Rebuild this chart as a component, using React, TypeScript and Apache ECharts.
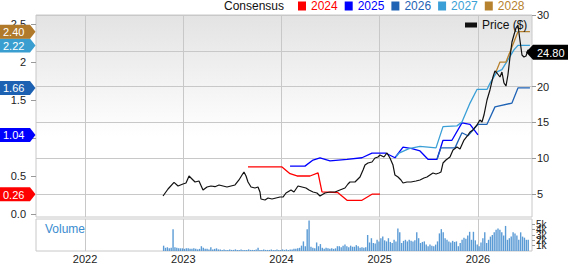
import React, { useEffect, useRef } from "react";
import * as echarts from "echarts";

const FONT = "Liberation Sans, Arial, sans-serif";

const yearTicks = [2022, 2023, 2024, 2025, 2026];
const epsTicks = [0, 0.5, 1, 1.5, 2, 2.5];
const priceTicks = [5, 10, 15, 20, 25, 30];

const seriesNames = ["2024", "2025", "2026", "2027", "2028"];
const seriesColors = ["#ff0000", "#0000ff", "#1f63b5", "#3a9fd6", "#b7822f"];
const badgeColors = ["#ff0000", "#0000ff", "#1d62b2", "#3a9fd0", "#b07a2a"];

const priceT = [
  2022.794, 2022.845, 2022.906, 2022.947, 2022.997, 2023.028, 2023.059, 2023.089, 2023.12, 2023.16,
  2023.201, 2023.242, 2023.282, 2023.323, 2023.364, 2023.405, 2023.445, 2023.486, 2023.527, 2023.567,
  2023.598, 2023.618, 2023.639, 2023.659, 2023.69, 2023.73, 2023.761, 2023.781, 2023.791, 2023.832,
  2023.863, 2023.903, 2023.944, 2023.985, 2024.015, 2024.046, 2024.097, 2024.127, 2024.168, 2024.209,
  2024.249, 2024.28, 2024.321, 2024.361, 2024.392, 2024.443, 2024.494, 2024.545, 2024.595, 2024.646,
  2024.677, 2024.697, 2024.748, 2024.799, 2024.83, 2024.85, 2024.88, 2024.921, 2024.952, 2024.982,
  2025.003, 2025.043, 2025.074, 2025.104, 2025.135, 2025.155, 2025.186, 2025.216, 2025.237, 2025.277,
  2025.318, 2025.369, 2025.41, 2025.45, 2025.481, 2025.511, 2025.542, 2025.573, 2025.603, 2025.623,
  2025.644, 2025.674, 2025.715, 2025.746, 2025.786, 2025.817, 2025.858, 2025.898, 2025.919, 2025.949,
  2025.99, 2026.02, 2026.041, 2026.061, 2026.092, 2026.122, 2026.153, 2026.173, 2026.193, 2026.224,
  2026.244, 2026.265, 2026.285, 2026.305, 2026.326, 2026.346, 2026.366, 2026.387, 2026.407, 2026.427,
  2026.448, 2026.468, 2026.489, 2026.509, 2026.529,
];
const priceV = [
  4.72, 5.7, 6.63, 6.12, 6.4, 6.54, 7.51, 7.1, 6.68, 6.82,
  5.56, 5.98, 6.12, 6.02, 6.26, 6.12, 5.98, 6.12, 6.26, 6.96,
  7.65, 8.07, 7.51, 6.68, 5.98, 5.84, 5.98, 5.28, 4.3, 4.16,
  4.44, 4.3, 4.44, 4.58, 4.58, 5.14, 5.56, 5.28, 6.12, 5.98,
  5.84, 5.56, 5.28, 5.14, 4.72, 5.14, 5.28, 5.28, 5.56, 5.84,
  6.4, 6.68, 6.68, 7.37, 8.35, 9.05, 9.33, 9.47, 10.03, 10.17,
  10.45, 10.17, 10.73, 10.03, 9.05, 7.65, 7.37, 6.96, 6.54, 6.68,
  6.68, 6.82, 6.96, 7.23, 7.37, 7.65, 7.93, 7.79, 7.93, 8.07,
  9.33, 9.75, 10.17, 11.15, 11.56, 11.28, 12.54, 13.24, 13.66, 13.94,
  14.64, 15.34, 15.06, 16.03, 18.13, 19.53, 21.34, 22.18, 21.9, 21.34,
  22.04, 20.5, 20.08, 21.62, 24.13, 26.23, 27.21, 28.18, 28.6, 26.51,
  24.41, 24.13, 24.27, 25.11, 24.8,
];

const eps2024T = [2023.659, 2024.005, 2024.087, 2024.158, 2024.29, 2024.372, 2024.412, 2024.575, 2024.667, 2024.819, 2024.921, 2025.003];
const eps2024V = [0.62, 0.62, 0.53, 0.5, 0.5, 0.54, 0.29, 0.28, 0.18, 0.18, 0.26, 0.26];

const eps2025T = [2024.087, 2024.239, 2024.321, 2024.392, 2024.494, 2024.667, 2024.819, 2024.921, 2025.064, 2025.155, 2025.237, 2025.328, 2025.41, 2025.491, 2025.583, 2025.644, 2025.735, 2025.837, 2025.919, 2026.0];
const eps2025V = [0.63, 0.63, 0.71, 0.74, 0.7, 0.72, 0.74, 0.8, 0.8, 0.74, 0.88, 0.86, 0.83, 0.72, 0.72, 0.97, 0.97, 1.2, 1.18, 1.04];

const eps2026T = [2025.583, 2025.623, 2025.766, 2025.837, 2025.898, 2026.0, 2026.092, 2026.173, 2026.346, 2026.407, 2026.529];
const eps2026V = [0.72, 0.87, 0.87, 1.07, 1.03, 1.18, 1.18, 1.41, 1.46, 1.66, 1.66];

const eps2027T = [2025.165, 2025.196, 2025.298, 2025.41, 2025.573, 2025.644, 2025.786, 2025.837, 2025.919, 2025.99, 2026.092, 2026.122, 2026.193, 2026.244, 2026.305, 2026.366, 2026.407, 2026.529];
const eps2027V = [0.75, 0.8, 0.86, 0.89, 0.87, 1.15, 1.16, 1.21, 1.46, 1.64, 1.64, 1.72, 1.87, 1.9, 2.03, 2.16, 2.22, 2.22];

const eps2028T = [2026.183, 2026.224, 2026.285, 2026.346, 2026.407, 2026.529];
const eps2028V = [1.87, 2.0, 2.0, 2.2, 2.4, 2.4];

// weekly volume (thousands), first week starting at volStart (decimal year)
const volStart = 2022.8;
const volWeeksPerYear = 52;
const volumeK = [
  1.0, 0.6, 0.7, 0.5, 0.6, 4.1, 0.7, 0.6, 0.5, 0.5,
  0.5, 0.4, 0.5, 0.5, 0.4, 0.4, 0.5, 0.4, 0.3, 0.4,
  0.9, 0.6, 0.4, 0.4, 0.3, 0.7, 0.3, 0.4, 0.5, 0.3,
  0.3, 0.2, 0.3, 0.2, 0.2, 0.3, 0.2, 0.2, 0.3, 0.2,
  0.2, 0.3, 0.2, 0.2, 0.2, 0.3, 0.2, 0.2, 0.2, 0.3,
  0.6, 0.2, 0.2, 0.3, 0.2, 0.2, 0.2, 0.3, 0.2, 0.2,
  0.3, 0.2, 0.2, 0.3, 0.2, 0.3, 0.2, 0.3, 0.3, 0.4,
  0.4, 0.5, 0.6, 1.0, 1.8, 0.9, 4.1, 5.7, 0.8, 0.6,
  0.5, 1.6, 0.9, 1.3, 0.6, 0.4, 0.6, 0.5, 0.4, 0.5,
  0.4, 0.5, 0.9, 0.9, 0.7, 1.0, 1.2, 0.9, 0.7, 1.0,
  0.8, 0.8, 1.1, 0.9, 0.6, 0.7, 0.6, 0.7, 3.0, 1.6,
  2.4, 1.5, 1.4, 2.1, 1.8, 2.4, 2.7, 2.0, 1.8, 2.4,
  1.7, 1.5, 2.1, 1.8, 4.2, 3.5, 1.5, 1.9, 2.1, 1.8,
  2.1, 1.9, 1.8, 2.0, 3.5, 2.4, 1.5, 1.7, 1.8, 1.2,
  0.9, 1.2, 1.0, 0.9, 1.2, 1.8, 3.3, 4.1, 3.5, 2.4,
  2.1, 1.8, 1.6, 1.9, 1.7, 1.8, 0.9, 1.5, 2.1, 2.5,
  2.3, 2.9, 3.6, 2.1, 3.6, 2.0, 1.2, 0.9, 1.6, 2.4,
  3.5, 1.5, 2.1, 2.7, 3.0, 3.5, 4.0, 4.2, 4.0, 3.5,
  2.9, 4.7, 2.1, 2.4, 2.7, 3.5, 3.3, 2.9, 2.1, 3.5,
  2.7, 2.5, 2.1, 2.1,
];

const xMin = 2021.501;
const xMax = 2026.55;

function zip(t: number[], v: number[]) {
  return t.map((x, i) => [x, v[i]]);
}

export default function App() {
  const ref = useRef<HTMLDivElement>(null);
  useEffect(() => {
    document.body.style.margin = "0";
    const chart = echarts.init(ref.current!, null, { renderer: "svg" });
    const epsT = [eps2024T, eps2025T, eps2026T, eps2027T, eps2028T];
    const epsV = [eps2024V, eps2025V, eps2026V, eps2027V, eps2028V];
    const volData = volumeK.map((v, i) => [volStart + i / volWeeksPerYear, v]);

    const axisText = { fontFamily: FONT, fontSize: 11, color: "#222" };
    const option: any = {
      animation: false,
      textStyle: { fontFamily: FONT },
      grid: [
        {
          left: 36, top: 15, width: 496, height: 202, show: true,
          borderColor: "#c8c8c8", borderWidth: 1,
          backgroundColor: new echarts.graphic.LinearGradient(0, 0, 0, 1, [
            { offset: 0, color: "#e3e3e3" },
            { offset: 0.6, color: "#ffffff" },
            { offset: 1, color: "#ffffff" },
          ]),
        },
        { left: 36, top: 219, width: 496, height: 34, show: true, borderColor: "#c8c8c8", borderWidth: 1, backgroundColor: "#ffffff" },
      ],
      legend: [
        {
          left: 298, top: 0, padding: 0, itemWidth: 8, itemHeight: 9, itemGap: 7, icon: "rect",
          selectedMode: false,
          textStyle: { fontFamily: FONT, fontSize: 12 },
          data: seriesNames.map((n, i) => ({ name: n, textStyle: { color: seriesColors[i] } })),
        },
        {
          left: 465, top: 19, padding: 0, itemWidth: 12, itemHeight: 5, icon: "rect",
          selectedMode: false,
          textStyle: { fontFamily: FONT, fontSize: 12, color: "#111" },
          data: ["Price ($)"],
        },
      ],
      xAxis: [
        {
          type: "value", gridIndex: 0, min: xMin, max: xMax,
          axisLine: { show: false },
          axisTick: { show: false, customValues: yearTicks },
          axisLabel: { show: false, customValues: yearTicks },
          splitLine: { show: true, lineStyle: { color: "#c8c8c8", width: 1 } },
        },
        {
          type: "value", gridIndex: 1, min: xMin, max: xMax,
          axisLine: { show: false },
          axisTick: { show: false, customValues: yearTicks },
          axisLabel: { show: true, customValues: yearTicks, formatter: (v: number) => String(Math.round(v)), margin: 2, ...axisText },
          splitLine: { show: true, lineStyle: { color: "#c8c8c8", width: 1 } },
        },
      ],
      yAxis: [
        {
          type: "value", gridIndex: 0, position: "left", min: -0.04, max: 2.62,
          axisLine: { show: false },
          axisTick: { show: true, customValues: epsTicks, length: 5, lineStyle: { color: "#999" } },
          axisLabel: { customValues: epsTicks, formatter: (v: number) => (v === 0 ? "0.0" : String(v)), margin: 10, ...axisText },
          splitLine: { show: false },
        },
        {
          type: "value", gridIndex: 0, position: "right", min: 1.79, max: 30,
          axisLine: { show: false },
          axisTick: { show: true, customValues: priceTicks, length: 4, lineStyle: { color: "#999" } },
          axisLabel: { customValues: priceTicks, margin: 5, ...axisText },
          splitLine: { show: true, lineStyle: { color: "#c8c8c8", width: 1 } },
        },
        {
          type: "value", gridIndex: 1, position: "right", min: 0, max: 6, interval: 1,
          axisLine: { show: false },
          axisTick: { show: true, length: 3, lineStyle: { color: "#999" } },
          axisLabel: { formatter: (v: number) => (v === 0 ? "0" : v + "k"), margin: 4, fontFamily: FONT, fontSize: 10, color: "#222" },
          splitLine: { show: false },
        },
      ],
      series: [
        ...seriesNames.map((n, i) => ({
          name: n, type: "line", xAxisIndex: 0, yAxisIndex: 0,
          data: zip(epsT[i], epsV[i]), showSymbol: false, symbol: "none",
          lineStyle: { color: seriesColors[i], width: 1.3 }, itemStyle: { color: seriesColors[i] },
          z: 3,
        })),
        {
          name: "Price ($)", type: "line", xAxisIndex: 0, yAxisIndex: 1,
          data: zip(priceT, priceV), showSymbol: false, symbol: "none",
          lineStyle: { color: "#111", width: 1.2 }, itemStyle: { color: "#111" }, z: 4,
        },
        {
          name: "Volume", type: "bar", xAxisIndex: 1, yAxisIndex: 2,
          data: volData, barWidth: 1.4, itemStyle: { color: "#5b9bd5" },
        },
      ],
    };
    chart.setOption(option);

    const graphics: any[] = [
      {
        type: "text", x: 224, y: 6, z: 100,
        style: { text: "Consensus", fill: "#111", fontSize: 12, fontFamily: FONT, align: "left", verticalAlign: "middle", textAlign: "left", textVerticalAlign: "middle" },
      },
      {
        type: "text", x: 45, y: 229, z: 100,
        style: { text: "Volume", fill: "#3a8ccf", fontSize: 12, fontFamily: FONT, align: "left", verticalAlign: "middle", textAlign: "left", textVerticalAlign: "middle" },
      },
    ];
    epsV.forEach((vals, i) => {
      const last = vals[vals.length - 1];
      const y = chart.convertToPixel({ yAxisIndex: 0 }, last) as number;
      graphics.push({
        type: "polygon", z: 100,
        shape: { points: [[0, y - 7], [30, y - 7], [35.5, y], [30, y + 7], [0, y + 7]] },
        style: { fill: badgeColors[i] },
      });
      graphics.push({
        type: "text", x: 3, y: y + 0.5, z: 101,
        style: { text: last.toFixed(2), fill: "#ffffff", fontSize: 11, fontFamily: FONT, align: "left", verticalAlign: "middle", textAlign: "left", textVerticalAlign: "middle" },
      });
    });
    const lastPrice = priceV[priceV.length - 1];
    const py = chart.convertToPixel({ yAxisIndex: 1 }, lastPrice) as number;
    graphics.push({
      type: "polygon", z: 100,
      shape: { points: [[526, py], [533, py - 7.5], [568, py - 7.5], [568, py + 7.5], [533, py + 7.5]] },
      style: { fill: "#000000" },
    });
    graphics.push({
      type: "text", x: 537, y: py + 0.5, z: 101,
      style: { text: lastPrice.toFixed(2), fill: "#ffffff", fontSize: 11, fontFamily: FONT, align: "left", verticalAlign: "middle", textAlign: "left", textVerticalAlign: "middle" },
    });
    chart.setOption({ graphic: graphics });

    return () => chart.dispose();
  }, []);
  return <div ref={ref} style={{ position: "absolute", left: 0, top: 0, width: 568, height: 264 }} />;
}
